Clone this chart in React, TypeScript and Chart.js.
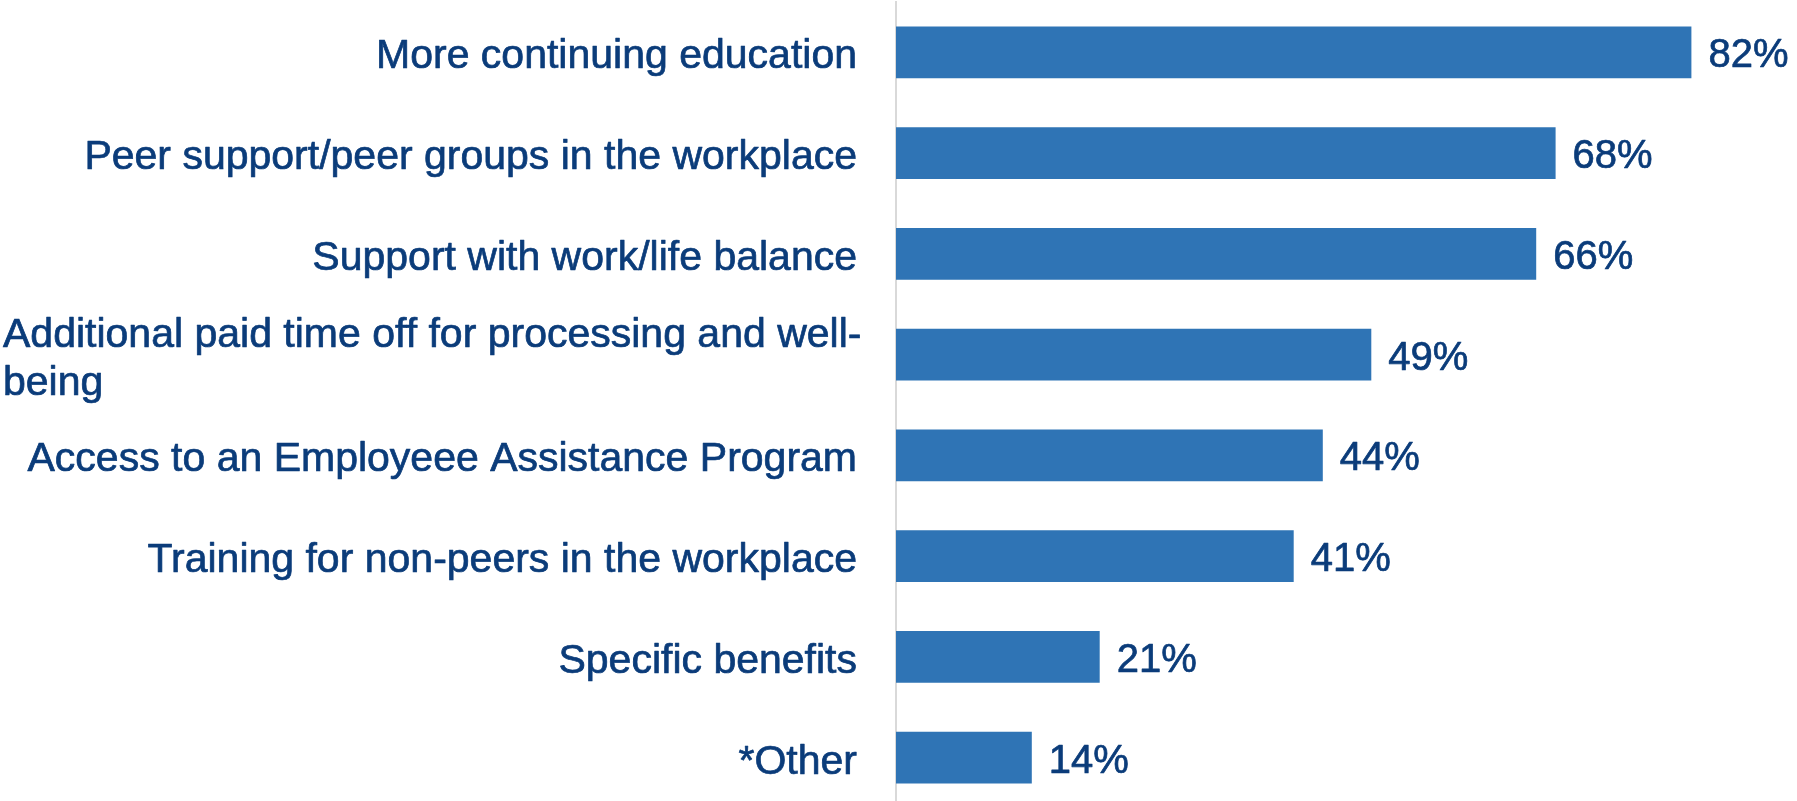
import React, { useEffect, useRef } from "react";
import { Chart, registerables } from "chart.js";

Chart.register(...registerables);

const categories: string[][] = [
  ["More continuing education"],
  ["Peer support/peer groups in the workplace"],
  ["Support with work/life balance"],
  ["Additional paid time off for processing and well-", "being"],
  ["Access to an Employeee Assistance Program"],
  ["Training for non-peers in the workplace"],
  ["Specific benefits"],
  ["*Other"],
];

const values: number[] = [82, 68, 66, 49, 44, 41, 21, 14];

const xMin = 0;
const xMax = 90;

const TEXT_COLOR = "#0b3c7a";
const BAR_COLOR = "#2f74b5";
const FONT = "'Liberation Sans', Arial, sans-serif";

function heavyText(ctx: CanvasRenderingContext2D, s: string, x: number, y: number) {
  ctx.fillText(s, x, y);
  ctx.strokeText(s, x, y);
}

const labelPlugin = {
  id: "customLabels",
  afterDraw(chart: any) {
    const ctx = chart.ctx as CanvasRenderingContext2D;
    const yScale = chart.scales.y;
    const area = chart.chartArea;
    ctx.save();
    ctx.fillStyle = TEXT_COLOR;
    ctx.strokeStyle = TEXT_COLOR;
    ctx.lineWidth = 0.7;
    ctx.lineJoin = "round";
    // category labels
    ctx.font = `41px ${FONT}`;
    ctx.textBaseline = "alphabetic";
    const right = area.left - 39;
    const lineH = 48;
    categories.forEach((lines, i) => {
      const cy = yScale.getPixelForValue(i);
      const n = lines.length;
      if (n === 1) {
        ctx.textAlign = "right";
        heavyText(ctx, lines[0], right, cy + 16);
      } else {
        const maxW = Math.max(...lines.map((l) => ctx.measureText(l).width));
        const left = Math.max(3, right - maxW);
        ctx.textAlign = "left";
        lines.forEach((l, j) => {
          heavyText(ctx, l, left, cy + 16 + (j - (n - 1) / 2) * lineH);
        });
      }
    });
    // value labels
    ctx.font = `40px ${FONT}`;
    ctx.textAlign = "left";
    const meta = chart.getDatasetMeta(0);
    meta.data.forEach((bar: any, i: number) => {
      heavyText(ctx, `${values[i]}%`, bar.x + 17, bar.y + 15);
    });
    ctx.restore();
  },
};

export default function App() {
  const ref = useRef<HTMLCanvasElement | null>(null);
  useEffect(() => {
    if (!ref.current) return;
    const chart = new Chart(ref.current, {
      type: "bar",
      data: {
        labels: categories.map((c) => c.join(" ")),
        datasets: [
          {
            data: values,
            backgroundColor: BAR_COLOR,
            borderWidth: 0,
            barPercentage: 0.516,
            categoryPercentage: 1,
          },
        ],
      },
      options: {
        indexAxis: "y",
        responsive: false,
        animation: false,
        layout: { padding: { top: 2, bottom: 1, left: 0, right: 28 } },
        plugins: {
          legend: { display: false },
          tooltip: { enabled: false },
          title: { display: false },
        },
        scales: {
          x: {
            display: false,
            min: xMin,
            max: xMax,
          },
          y: {
            display: true,
            grid: { display: false, drawTicks: false },
            border: { display: true, color: "#d9d9d9", width: 2 },
            ticks: { display: false },
            afterFit(scale: any) {
              scale.width = 896;
            },
          },
        },
      },
      plugins: [labelPlugin],
    });
    return () => chart.destroy();
  }, []);

  return (
    <div
      style={{
        position: "fixed",
        left: 0,
        top: 0,
        width: 1797,
        height: 801,
        overflow: "hidden",
        background: "#ffffff",
      }}
    >
      <canvas ref={ref} width={1797} height={809} style={{ display: "block" }} />
    </div>
  );
}
